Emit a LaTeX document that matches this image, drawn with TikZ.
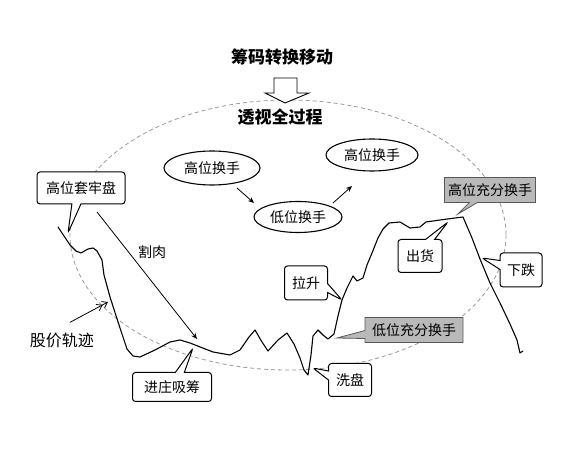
\documentclass[tikz,border=0pt]{standalone}
\usepackage{fontspec}
\setmainfont{Noto Sans CJK SC}
\usetikzlibrary{shapes.geometric,shapes.callouts,arrows.meta}
\begin{document}
\begin{tikzpicture}[x=1pt,y=-1pt,
  lbl/.style={font=\fontsize{14}{16}\selectfont, inner sep=0pt},
  oval/.style={ellipse, draw, line width=1.1pt, fill=white, inner sep=0pt, font=\fontsize{14}{16}\selectfont},
  callbox/.style={rectangle callout, draw, line width=1pt, fill=white, rounded corners=3pt, inner sep=0pt,
    font=\fontsize{14}{16}\selectfont, callout pointer width=9pt},
  graybox/.style={rectangle callout, draw=gray!70!black, line width=0.8pt, fill=gray!55, inner sep=0pt,
    font=\fontsize{14}{16}\selectfont, callout pointer width=8pt},
  arr/.style={-{Stealth[length=6pt,width=5pt]}, line width=0.8pt},
  price/.style={line width=1.1pt, line join=round, line cap=round}
]
\useasboundingbox (0,0) rectangle (574,449);
\fill[white] (0,0) rectangle (574,449);

% dashed outer ellipse
\draw[gray!80, line width=0.8pt, dash pattern=on 4pt off 3pt] (288,235) ellipse [x radius=218, y radius=135];

% titles
\node[font=\fontsize{17}{19}\selectfont\bfseries, inner sep=0pt] (title) at (282,57) {筹码转换移动};
\draw[line width=0.9pt, fill=white] (274,78) -- (297,78) -- (297,93) -- (309,93) -- (285,103) -- (265,93) -- (274,93) -- cycle;
\node[font=\fontsize{17}{19}\selectfont\bfseries, inner sep=0pt] (sub) at (280,117) {透视全过程};

% price track
\draw[price] (58,227) -- (64,236) -- (70,245) -- (76,251) -- (81,253) -- (88,249) -- (93,248) -- (97,251)
  -- (102,260) -- (104,275) -- (110,297) -- (120,328) -- (127,349) -- (133,356) -- (140,357)
  -- (155,350) -- (170,342) -- (180,340) -- (190,343) -- (213,352) -- (230,355) -- (240,350)
  -- (249,337) -- (255,330) -- (262,342) -- (268,351) -- (278,340) -- (287,333) -- (294,344)
  -- (300,358) -- (304,370) -- (308,375) -- (311,355) -- (313,336) -- (318,330) -- (323,335)
  -- (328,339) -- (334,334) -- (338,316) -- (342,300) -- (347,288) -- (353,276) -- (357,281)
  -- (363,278) -- (367,265) -- (372,253) -- (378,238) -- (383,229) -- (389,223) -- (400,222)
  -- (410,228) -- (420,227) -- (426,222) -- (440,220) -- (455,218) -- (463,217)
  -- (472,238) -- (480,259) -- (490,283) -- (500,303) -- (510,324) -- (517,340) -- (520,353) -- (523,351);

% ovals
\node[oval, minimum width=96pt, minimum height=34pt] (e1) at (212,168) {高位换手};
\node[oval, minimum width=92pt, minimum height=32pt] (e2) at (372,155) {高位换手};
\node[oval, minimum width=88pt, minimum height=31pt] (e3) at (298,217) {低位换手};
\draw[arr] ([xshift=25pt,yshift=-20pt]e1.center) -- ([xshift=-44pt,yshift=14pt]e3.center);
\draw[arr] ([xshift=35pt,yshift=14pt]e3.center) -- ([xshift=-20pt,yshift=-31pt]e2.center);

% callouts
\node[callbox, minimum width=88pt, minimum height=32pt, callout absolute pointer={(68,233)}] (tl) at (81,188) {高位套牢盘};
\node[callbox, minimum width=44pt, minimum height=33pt, callout absolute pointer={(448,222)}] (ch) at (420,256) {出货};
\node[callbox, minimum width=42pt, minimum height=34pt, callout absolute pointer={(482,258)}] (xd) at (521,270) {下跌};
\node[callbox, minimum width=43pt, minimum height=34pt, callout absolute pointer={(342,300)}] (ls) at (306,283) {拉升};
\node[callbox, minimum width=43pt, minimum height=33pt, callout absolute pointer={(313,368)}] (xp) at (350,380) {洗盘};
\node[callbox, minimum width=79pt, minimum height=29pt, callout absolute pointer={(193,348)}] (jz) at (172,387) {进庄吸筹};
\node[graybox, minimum width=91pt, minimum height=25pt, callout absolute pointer={(458,214)}] (gc) at (490,190) {高位充分换手};
\node[graybox, minimum width=98pt, minimum height=25pt, callout absolute pointer={(337,338)}] (dc) at (414,330) {低位充分换手};

% free labels and arrows
\node[lbl] (gr) at (152,252) {割肉};
\coordinate (cut) at (197,339);
\draw[arr] ([xshift=16pt,yshift=-24pt]tl.center) -- (cut);
\node[font=\fontsize{16}{18}\selectfont, inner sep=0pt] (gj) at (62,340) {股价轨迹};
\coordinate (trk) at (108,302);
\draw[line width=0.8pt, -{Straight Barb[length=5pt,width=7pt]Straight Barb[length=5pt,width=7pt]}] ([xshift=8pt,yshift=10pt]gj.north) -- (trk);
\end{tikzpicture}
\end{document}
